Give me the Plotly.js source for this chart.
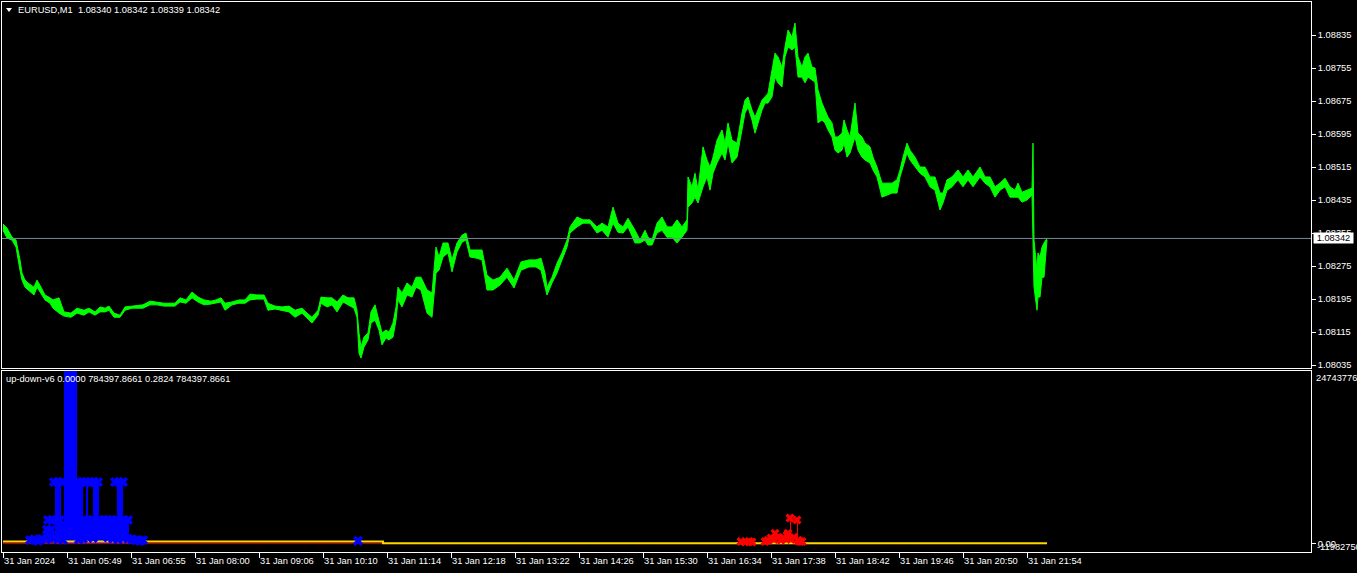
<!DOCTYPE html>
<html>
<head>
<meta charset="utf-8">
<script src="https://cdn.plot.ly/plotly-3.0.1.min.js"></script>
<style>
html,body{margin:0;padding:0;background:#000;}
#chart{width:1357px;height:573px;}
</style>
</head>
<body>
<div id="chart"></div>
<script>
// ---- price panel (EURUSD M1), sampled bar index with high / low ----
const bars = [0,4,9,13,17,19,22,25,31,34,38,42,47,50,56,61,68,74,81,86,92,97,102,106,111,117,122,129,140,147,154,161,172,177,183,189,195,201,208,213,218,222,229,236,242,247,254,261,265,272,279,286,292,299,304,309,315,318,324,329,334,340,345,351,354,356,358,361,365,368,372,376,379,383,386,390,393,395,399,404,409,413,418,424,429,433,436,440,445,449,454,459,463,467,474,479,484,490,497,504,511,518,526,533,538,542,544,549,554,559,564,567,574,580,587,594,599,605,610,615,620,625,632,637,642,645,649,654,659,664,669,674,679,684,685,689,692,695,700,704,707,710,714,719,722,725,729,734,739,742,745,749,752,755,759,762,765,769,772,775,779,782,785,789,792,795,799,802,805,809,812,815,819,822,825,829,832,835,839,841,844,847,852,855,859,862,867,870,874,879,884,889,894,897,900,904,907,912,917,922,927,932,937,940,944,949,955,960,965,970,977,982,987,992,997,1002,1007,1012,1015,1019,1024,1029,1030,1031,1034,1035,1037,1039,1041,1043,1044];
const hi = [1.08377,1.08367,1.08345,1.08338,1.08290,1.08258,1.08241,1.08234,1.08224,1.08241,1.08224,1.08205,1.08198,1.08193,1.08198,1.08164,1.08161,1.08173,1.08168,1.08173,1.08164,1.08176,1.08173,1.08178,1.08161,1.08156,1.08176,1.08178,1.08181,1.08190,1.08188,1.08185,1.08185,1.08198,1.08193,1.08212,1.08200,1.08193,1.08190,1.08193,1.08198,1.08185,1.08188,1.08193,1.08193,1.08207,1.08205,1.08205,1.08185,1.08178,1.08176,1.08178,1.08168,1.08173,1.08161,1.08151,1.08168,1.08200,1.08198,1.08198,1.08188,1.08205,1.08198,1.08198,1.08168,1.08113,1.08079,1.08103,1.08113,1.08164,1.08181,1.08144,1.08113,1.08120,1.08115,1.08137,1.08176,1.08224,1.08210,1.08234,1.08224,1.08248,1.08248,1.08217,1.08210,1.08321,1.08297,1.08331,1.08331,1.08290,1.08331,1.08350,1.08355,1.08314,1.08314,1.08314,1.08253,1.08241,1.08248,1.08270,1.08241,1.08285,1.08290,1.08290,1.08294,1.08258,1.08224,1.08248,1.08282,1.08307,1.08338,1.08370,1.08394,1.08387,1.08387,1.08370,1.08379,1.08370,1.08418,1.08379,1.08370,1.08391,1.08362,1.08338,1.08362,1.08345,1.08338,1.08379,1.08394,1.08370,1.08370,1.08387,1.08370,1.08387,1.08491,1.08467,1.08500,1.08459,1.08564,1.08532,1.08515,1.08539,1.08580,1.08605,1.08573,1.08622,1.08580,1.08573,1.08646,1.08677,1.08685,1.08653,1.08636,1.08653,1.08677,1.08685,1.08694,1.08750,1.08791,1.08782,1.08757,1.08806,1.08847,1.08830,1.08864,1.08782,1.08757,1.08782,1.08791,1.08757,1.08755,1.08702,1.08670,1.08653,1.08636,1.08622,1.08588,1.08588,1.08597,1.08629,1.08605,1.08588,1.08670,1.08597,1.08588,1.08573,1.08564,1.08539,1.08515,1.08476,1.08476,1.08476,1.08484,1.08508,1.08539,1.08573,1.08556,1.08539,1.08515,1.08515,1.08491,1.08491,1.08452,1.08452,1.08484,1.08491,1.08508,1.08491,1.08508,1.08491,1.08515,1.08491,1.08491,1.08467,1.08476,1.08488,1.08467,1.08459,1.08476,1.08454,1.08459,1.08464,1.08573,1.08338,1.08265,1.08307,1.08297,1.08321,1.08331,1.08338,1.08342];
const lo = [1.08362,1.08343,1.08338,1.08321,1.08265,1.08241,1.08224,1.08217,1.08205,1.08224,1.08210,1.08193,1.08185,1.08173,1.08161,1.08154,1.08151,1.08161,1.08156,1.08164,1.08156,1.08164,1.08164,1.08168,1.08151,1.08151,1.08168,1.08173,1.08173,1.08181,1.08181,1.08178,1.08178,1.08188,1.08185,1.08198,1.08188,1.08181,1.08183,1.08185,1.08188,1.08168,1.08181,1.08185,1.08185,1.08193,1.08195,1.08195,1.08168,1.08171,1.08168,1.08164,1.08151,1.08161,1.08149,1.08137,1.08156,1.08185,1.08176,1.08181,1.08164,1.08188,1.08181,1.08173,1.08151,1.08064,1.08052,1.08079,1.08096,1.08137,1.08144,1.08120,1.08084,1.08101,1.08096,1.08103,1.08144,1.08193,1.08176,1.08205,1.08200,1.08224,1.08217,1.08161,1.08151,1.08258,1.08265,1.08297,1.08307,1.08261,1.08309,1.08333,1.08338,1.08297,1.08294,1.08290,1.08217,1.08217,1.08229,1.08248,1.08222,1.08265,1.08273,1.08273,1.08265,1.08224,1.08205,1.08234,1.08258,1.08290,1.08321,1.08355,1.08370,1.08379,1.08379,1.08355,1.08362,1.08345,1.08379,1.08357,1.08355,1.08370,1.08331,1.08331,1.08338,1.08326,1.08326,1.08355,1.08362,1.08345,1.08345,1.08331,1.08345,1.08362,1.08418,1.08428,1.08442,1.08428,1.08467,1.08491,1.08459,1.08500,1.08525,1.08549,1.08532,1.08573,1.08525,1.08539,1.08605,1.08646,1.08660,1.08629,1.08597,1.08622,1.08653,1.08670,1.08670,1.08685,1.08733,1.08719,1.08709,1.08782,1.08806,1.08799,1.08806,1.08733,1.08733,1.08719,1.08733,1.08726,1.08721,1.08622,1.08629,1.08622,1.08605,1.08588,1.08556,1.08549,1.08556,1.08573,1.08539,1.08549,1.08588,1.08556,1.08539,1.08532,1.08525,1.08508,1.08491,1.08442,1.08447,1.08452,1.08452,1.08491,1.08515,1.08549,1.08532,1.08515,1.08500,1.08491,1.08467,1.08459,1.08411,1.08428,1.08459,1.08467,1.08484,1.08467,1.08484,1.08467,1.08491,1.08476,1.08467,1.08442,1.08459,1.08467,1.08442,1.08442,1.08442,1.08430,1.08435,1.08447,1.08338,1.08224,1.08168,1.08200,1.08200,1.08248,1.08248,1.08297,1.08339];
const lastPrice = 1.08342;
const priceTicks = [1.08035,1.08115,1.08195,1.08275,1.08355,1.08435,1.08515,1.08595,1.08675,1.08755,1.08835];
const priceTickText = ['1.08035','1.08115','1.08195','1.08275','1.08355','1.08435','1.08515','1.08595','1.08675','1.08755','1.08835'];
const timeTickBars = [0,64,128,192,256,320,384,448,512,576,640,704,768,832,896,960,1024];
const timeLabels = ['31 Jan 2024','31 Jan 05:49','31 Jan 06:55','31 Jan 08:00','31 Jan 09:06','31 Jan 10:10','31 Jan 11:14','31 Jan 12:18','31 Jan 13:22','31 Jan 14:26','31 Jan 15:30','31 Jan 16:34','31 Jan 17:38','31 Jan 18:42','31 Jan 19:46','31 Jan 20:50','31 Jan 21:54'];

// ---- indicator panel (up-down-v6) ----
const indMax = 247437767;
const indMin = -11982750;
const blueHistBar = [52,53,54,55,56,57,58,59,60,61,62,63,64,65,66,67,68,69,70,71,72,73,74,75,76,77,78,79,80,81,82,83,84,85,86,87,88,89,90,91,92,93,94,95,96,97,98,99,100,101,102,103,104,105,106,107,108,109,110,111,112,113,114,115,116,117,118,119,120,121,122,123,124,125];
const blueHistVal = [88300000,88300000,88300000,88300000,88300000,88300000,30000000,30000000,30000000,247437767,247437767,247437767,247437767,247437767,247437767,247437767,247437767,247437767,247437767,247437767,247437767,247437767,88300000,88300000,88300000,88300000,88300000,88300000,33000000,33000000,33000000,88300000,88300000,33000000,33000000,33000000,33000000,33000000,88300000,88300000,88300000,88300000,88300000,88300000,31000000,31000000,31000000,31000000,31000000,31000000,31000000,31000000,31000000,31000000,31000000,31000000,31000000,31000000,31000000,31000000,31000000,31000000,88300000,88300000,88300000,88300000,88300000,88300000,31000000,31000000,31000000,31000000,31000000,31000000];
const blueMarkBar = [51,55,59,75,79,83,87,91,95,112,116,120,45,49,53,57,77,81,85,89,93,97,101,105,109,113,117,121,125,44,48,100,104,108,27,31,35,39,43,47,51,55,60,76,80,90,105,110,115,120,125,129,133,137,140,355];
const blueMarkVal = [88300000,88300000,88300000,88300000,88300000,88300000,88300000,88300000,88300000,88300000,88300000,88300000,33900000,33900000,33900000,33900000,33900000,33900000,33900000,33900000,33900000,33900000,33900000,33900000,33900000,33900000,33900000,33900000,33900000,20000000,20000000,20000000,20000000,20000000,5000000,6000000,4000000,7000000,6000000,9000000,8000000,6000000,5000000,6000000,7000000,8000000,9000000,7000000,6000000,8000000,7000000,6000000,5000000,4000000,5000000,4000000];
const redHistBar = [766,769,772,775,778,781,784,785,787,790,794,797];
const redHistVal = [6000000,9000000,15000000,9000000,7000000,10000000,12000000,15000000,36700000,10000000,33900000,6000000];
const redMarkBar = [738,742,746,749,762,765,768,771,772,775,778,781,784,785,787,788,791,794,795,797,799];
const redMarkVal = [3000000,2500000,3000000,2500000,3000000,5000000,8000000,6000000,15000000,9000000,5000000,8000000,12000000,15000000,36700000,6000000,9000000,33900000,5000000,3000000,3000000];
const yellowBar = [0,380,380,1044];
const yellowVal = [3200000,3200000,700000,700000];
const redLineBar = [0,1044];
const redLineVal = [0,0];

const FONT = 'Liberation Sans, Arial, sans-serif';
const FS = 9.3;

const traces = [
  {x: bars, y: lo, xaxis: 'x2', yaxis: 'y', mode: 'lines', line: {color: '#00FF00', width: 1}, hoverinfo: 'skip'},
  {x: bars, y: hi, xaxis: 'x2', yaxis: 'y', mode: 'lines', fill: 'tonexty', fillcolor: '#00FF00', line: {color: '#00FF00', width: 1}, hoverinfo: 'skip'},
  {x: redLineBar, y: redLineVal, xaxis: 'x', yaxis: 'y2', mode: 'lines', line: {color: '#D00000', width: 1}, hoverinfo: 'skip'},
  {x: yellowBar, y: yellowVal, xaxis: 'x', yaxis: 'y2', mode: 'lines', line: {color: '#FFD700', width: 2}, hoverinfo: 'skip'},
  {type: 'bar', x: blueHistBar, y: blueHistVal, width: 1, xaxis: 'x', yaxis: 'y2', marker: {color: '#0000FF', line: {width: 0}}, hoverinfo: 'skip'},
  {type: 'bar', x: redHistBar, y: redHistVal, width: 1, xaxis: 'x', yaxis: 'y2', marker: {color: '#FF0000', line: {width: 0}}, hoverinfo: 'skip'},
  {x: blueMarkBar, y: blueMarkVal, xaxis: 'x', yaxis: 'y2', mode: 'markers', marker: {symbol: 'x', size: 9, color: '#0000FF', line: {width: 0}}, hoverinfo: 'skip'},
  {x: redMarkBar, y: redMarkVal, xaxis: 'x', yaxis: 'y2', mode: 'markers', marker: {symbol: 'x', size: 8, color: '#FF0000', line: {width: 0}}, hoverinfo: 'skip'}
];

const W = 1309, H = 550; // plot area in px
const px = v => (v - 2) / W;
const py = v => (552 - v) / H;

const layout = {
  width: 1357, height: 573,
  margin: {l: 2, r: 46, t: 2, b: 21, pad: 0},
  paper_bgcolor: '#000000', plot_bgcolor: '#000000',
  showlegend: false, barmode: 'overlay', bargap: 0,
  font: {family: FONT, size: FS, color: '#FFFFFF'},
  xaxis: {
    domain: [0, 1], anchor: 'y2', range: [-1, 1308],
    tickmode: 'array', tickvals: timeTickBars, ticktext: timeLabels,
    ticks: 'outside', ticklen: 5, tickcolor: '#FFFFFF', tickwidth: 1,
    ticklabelposition: 'outside right', tickangle: 0, automargin: false,
    showline: true, mirror: true, linecolor: '#FFFFFF', linewidth: 1,
    showgrid: false, zeroline: false, fixedrange: true,
    tickfont: {family: FONT, size: FS, color: '#FFFFFF'}
  },
  xaxis2: {
    domain: [0, 1], anchor: 'y', matches: 'x', range: [-1, 1308],
    showticklabels: false, ticks: '',
    showline: true, mirror: true, linecolor: '#FFFFFF', linewidth: 1,
    showgrid: false, zeroline: false
  },
  yaxis: {
    domain: [py(368), 1], anchor: 'x2', side: 'right',
    range: [1.08028, 1.08915],
    tickmode: 'array', tickvals: priceTicks, ticktext: priceTickText,
    ticks: 'outside', ticklen: 4, tickcolor: '#FFFFFF', automargin: false,
    showline: true, mirror: true, linecolor: '#FFFFFF', linewidth: 1,
    showgrid: false, zeroline: false,
    tickfont: {family: FONT, size: FS, color: '#FFFFFF'}
  },
  yaxis2: {
    domain: [0, py(371)], anchor: 'x', side: 'right',
    range: [indMin, indMax],
    tickmode: 'array', tickvals: [0], ticktext: ['0.00'],
    ticks: 'outside', ticklen: 4, tickcolor: '#FFFFFF', automargin: false,
    showline: true, mirror: true, linecolor: '#FFFFFF', linewidth: 1,
    showgrid: false, zeroline: false,
    tickfont: {family: FONT, size: FS, color: '#FFFFFF'}
  },
  shapes: [
    {type: 'line', xref: 'paper', yref: 'y', x0: 0, x1: 1, y0: lastPrice, y1: lastPrice, line: {color: '#778899', width: 1}},
    {type: 'path', xref: 'paper', yref: 'paper', path: 'M ' + px(6) + ' ' + py(8) + ' L ' + px(12) + ' ' + py(8) + ' L ' + px(9) + ' ' + py(12) + ' Z', fillcolor: '#FFFFFF', line: {width: 0}}
  ],
  annotations: [
    {xref: 'paper', yref: 'paper', x: px(16), y: py(10), xanchor: 'left', yanchor: 'middle', showarrow: false,
     text: 'EURUSD,M1&nbsp;&nbsp;1.08340 1.08342 1.08339 1.08342', font: {family: FONT, size: 9.3, color: '#FFFFFF'}},
    {xref: 'paper', yref: 'paper', x: px(4), y: py(379), xanchor: 'left', yanchor: 'middle', showarrow: false,
     text: 'up-down-v6 0.0000 784397.8661 0.2824 784397.8661', font: {family: FONT, size: 9.3, color: '#FFFFFF'}},
    {xref: 'paper', yref: 'y', x: 1, xshift: 2, y: lastPrice, xanchor: 'left', yanchor: 'middle', showarrow: false,
     text: '1.08342', bgcolor: '#FFFFFF', borderpad: 0, width: 39, height: 10, align: 'center',
     font: {family: FONT, size: FS, color: '#000000'}},
    {xref: 'paper', yref: 'paper', x: 1, xshift: 3, y: py(378), xanchor: 'left', yanchor: 'middle', showarrow: false,
     text: '247437767', font: {family: FONT, size: FS, color: '#FFFFFF'}},
    {xref: 'paper', yref: 'paper', x: 1, xshift: 4, y: py(547), xanchor: 'left', yanchor: 'middle', showarrow: false,
     text: '-11982750', font: {family: FONT, size: FS, color: '#FFFFFF'}}
  ]
};

Plotly.newPlot('chart', traces, layout, {staticPlot: true, displayModeBar: false});
</script>
</body>
</html>
